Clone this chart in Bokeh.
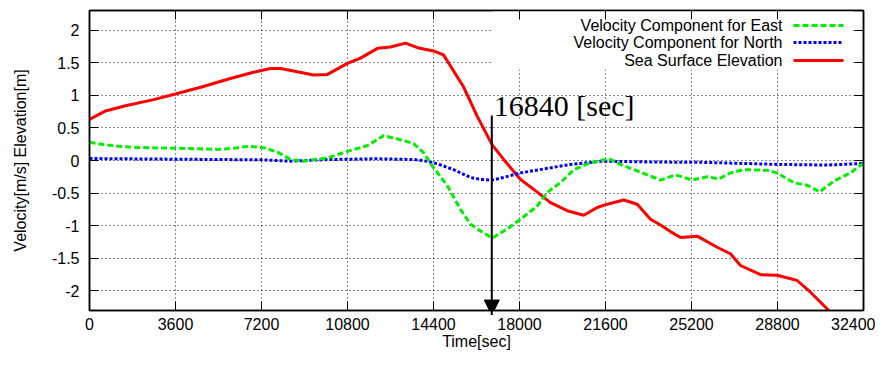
from bokeh.plotting import figure
from bokeh.models import (Range1d, LinearAxis, FixedTicker, NumeralTickFormatter,
                          Arrow, NormalHead, Label, BoxAnnotation)
from bokeh.embed import file_html
from bokeh.resources import INLINE

# ---------------- data ----------------
x_ticks = [0, 3600, 7200, 10800, 14400, 18000, 21600, 25200, 28800, 32400]
y_ticks = [-2, -1.5, -1, -0.5, 0, 0.5, 1, 1.5, 2]

t_elev = [0, 670, 1507, 2637, 3600, 4730, 5820, 6823, 7577, 8000, 8707, 9377, 9963,
          10800, 11344, 12056, 12600, 13228, 13730, 14400, 14818, 15656, 16228, 16856,
          17330, 18042, 18586, 19297, 19995, 20692, 21252, 21671, 22366, 22927, 23484,
          23903, 24320, 24739, 25438, 26275, 26832, 27250, 28088, 28787, 29625, 30181,
          30948, 31600, 32400]
elev = [0.63, 0.76, 0.84, 0.93, 1.02, 1.13, 1.25, 1.35, 1.41, 1.41, 1.36, 1.31, 1.32,
        1.49, 1.57, 1.72, 1.74, 1.80, 1.73, 1.68, 1.62, 1.13, 0.68, 0.24,
        0.02, -0.29, -0.44, -0.645, -0.77, -0.84, -0.72, -0.67, -0.605, -0.67, -0.90,
        -0.99, -1.09, -1.18, -1.16, -1.33, -1.43, -1.61, -1.75, -1.76, -1.84, -2.02,
        -2.30, -2.55, -2.31]

t_east = [0, 670, 1214, 1926, 3307, 4437, 5400, 6112, 6656, 7368, 7912, 8414, 8958,
          9963, 10800, 11637, 12307, 12893, 13563, 13982, 14400, 14986, 15530, 15949,
          16367, 16856, 17484, 18042, 18740, 19158, 19716, 20273, 20972, 21739, 22227,
          22927, 23903, 24530, 25229, 25857, 26345, 26832, 27390, 28367, 28787, 29483,
          30042, 30571, 31157, 31855, 32400]
east = [0.28, 0.24, 0.22, 0.20, 0.19, 0.18, 0.17, 0.19, 0.22, 0.19, 0.12, 0.015, -0.01,
        0.04, 0.14, 0.23, 0.38, 0.33, 0.26, 0.12, -0.11, -0.39, -0.75, -0.975,
        -1.08, -1.19, -1.05, -0.90, -0.70, -0.49, -0.34, -0.14, -0.035, 0.03, -0.06,
        -0.16, -0.30, -0.22, -0.30, -0.25, -0.28, -0.19, -0.14, -0.15, -0.19, -0.34,
        -0.38, -0.48, -0.315, -0.19, -0.04]

t_north = [0, 3600, 7200, 8400, 10000, 12000, 13600, 14100, 14568, 15237, 15949, 16367,
           16856, 17330, 18042, 19018, 20135, 21530, 23000, 24320, 25300, 27400, 28800,
           30900, 32400]
north = [0.03, 0.02, 0.01, -0.01, 0.015, 0.026, 0.015, -0.01, -0.05, -0.14, -0.26, -0.29,
         -0.30, -0.26, -0.19, -0.13, -0.06, -0.01, -0.02, -0.025, -0.025, -0.045, -0.06,
         -0.07, -0.045]

marker_time = 16840
marker_text = "16840 [sec]"
labels = ["Velocity Component for East", "Velocity Component for North", "Sea Surface Elevation"]

# ---------------- figure ----------------
SANS = "Liberation Sans"
p = figure(width=875, height=352, output_backend="svg", toolbar_location=None,
           x_range=Range1d(0, 32400), y_range=Range1d(-2.3, 2.3),
           min_border_left=89, min_border_right=12, min_border_top=10, min_border_bottom=40,
           background_fill_color="white", border_fill_color="white")
p.outline_line_color = "black"
p.outline_line_width = 1.5

xt = FixedTicker(ticks=x_ticks)
yt = FixedTicker(ticks=y_ticks)

for ax in (p.xaxis[0], p.yaxis[0]):
    ax.major_tick_in = 9
    ax.major_tick_out = 0
    ax.minor_tick_line_color = None
    ax.axis_line_color = "black"
    ax.axis_line_width = 1.5
    ax.major_tick_line_width = 1
    ax.major_label_text_font = SANS
    ax.major_label_text_font_size = "16px"
    ax.major_label_text_color = "black"
    ax.axis_label_text_font = SANS
    ax.axis_label_text_font_size = "16px"
    ax.axis_label_text_font_style = "normal"
    ax.axis_label_text_color = "black"

p.xaxis.ticker = xt
p.yaxis.ticker = yt
p.xaxis.formatter = NumeralTickFormatter(format="0")
p.yaxis.formatter = NumeralTickFormatter(format="0.[0]")
p.xaxis.axis_label = "Time[sec]"
p.yaxis.axis_label = "Velocity[m/s] Elevation[m]"
p.xaxis.major_label_standoff = 7
p.xaxis.axis_label_standoff = 0
p.yaxis.major_label_standoff = 10
p.yaxis.axis_label_standoff = 20

# mirrored ticks on top and right (labels not drawn)
top_ax = LinearAxis(ticker=xt, major_tick_in=9, major_tick_out=0, minor_tick_line_color=None,
                    major_label_text_font_size="1px", major_label_text_color=None,
                    major_label_standoff=0, axis_line_color="black", axis_line_width=1.5)
right_ax = LinearAxis(ticker=yt, major_tick_in=9, major_tick_out=0, minor_tick_line_color=None,
                      major_label_text_font_size="1px", major_label_text_color=None,
                      major_label_standoff=0, axis_line_color="black", axis_line_width=1.5)
p.add_layout(top_ax, "above")
p.add_layout(right_ax, "right")

p.xgrid.ticker = xt
p.ygrid.ticker = yt
for g in (p.xgrid[0], p.ygrid[0]):
    g.grid_line_color = "black"
    g.grid_line_dash = "1 3"
    g.grid_line_width = 1
    g.grid_line_alpha = 0.9

# key background (hides the grid in the key area)
p.add_layout(BoxAnnotation(left=403, right=764, bottom=241, top=305,
                           left_units="screen", right_units="screen",
                           bottom_units="screen", top_units="screen",
                           fill_color="white", fill_alpha=1.0, line_alpha=0,
                           level="underlay"))

# ---------------- data lines ----------------
p.line(t_elev, elev, line_color="#ff0000", line_width=3)
p.line(t_north, north, line_color="#0000ff", line_width=3, line_dash="3 2")
p.line(t_east, east, line_color="#00ee00", line_width=3, line_dash="6 3")

# ---------------- annotation arrow ----------------
p.add_layout(Arrow(x_start=marker_time, y_start=0.69, x_end=marker_time, y_end=-2.37,
                   line_color="black", line_width=2,
                   end=NormalHead(size=15, fill_color="black", line_color="black")))
p.add_layout(Label(x=marker_time, y=0.84, x_offset=2, text=marker_text,
                   text_font="Liberation Serif", text_font_size="30px",
                   text_color="black", text_baseline="alphabetic", text_align="left"))

# ---------------- key (text right-aligned, sample on the right) ----------------
styles = [dict(line_color="#00ee00", line_dash="6 3"),
          dict(line_color="#0000ff", line_dash="3 2"),
          dict(line_color="#ff0000", line_dash="solid")]
rows = [285, 268, 250]
for lab, st, ry in zip(labels, styles, rows):
    p.add_layout(Label(x=693, y=ry, x_units="screen", y_units="screen", text=lab,
                       text_font=SANS, text_font_size="16px", text_color="black",
                       text_align="right", text_baseline="middle"))
    p.add_layout(Arrow(x_start=704, y_start=ry, x_end=754, y_end=ry,
                       start_units="screen", end_units="screen",
                       line_width=3, end=None, **st))

open("out.html", "w").write(file_html(p, INLINE))
